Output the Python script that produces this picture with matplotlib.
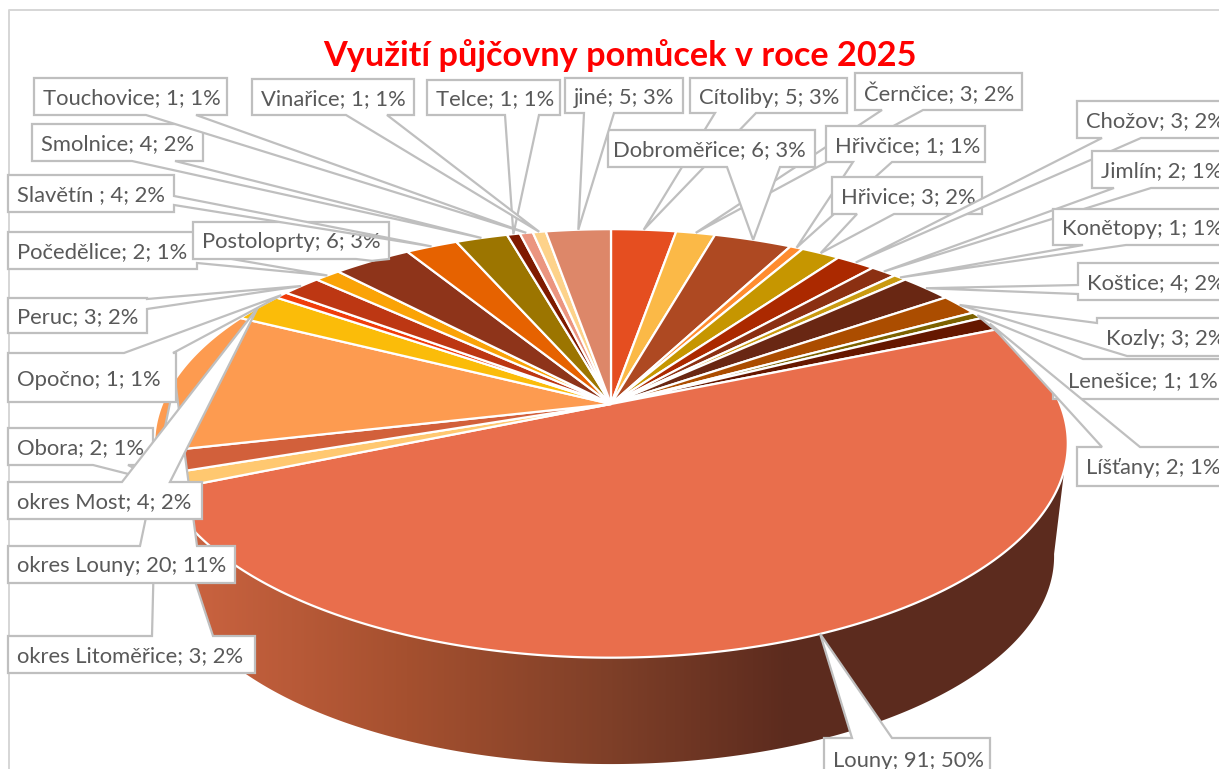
import numpy as np
import matplotlib
matplotlib.use("Agg")
import matplotlib.pyplot as plt
from matplotlib.patches import Polygon
from matplotlib.colors import LinearSegmentedColormap

plt.rcParams['font.family'] = ['Lato', 'DejaVu Sans']

categories = ["Cítoliby", "Černčice", "Dobroměřice", "Hřivčice", "Hřivice", "Chožov", "Jimlín",
              "Konětopy", "Koštice", "Kozly", "Lenešice", "Líšťany", "Louny", "Obora",
              "okres Litoměřice", "okres Louny", "okres Most", "Opočno", "Peruc", "Počedělice",
              "Postoloprty", "Slavětín ", "Smolnice", "Telce", "Touchovice", "Vinařice", "jiné"]
values = [5, 3, 6, 1, 3, 3, 2, 1, 4, 3, 1, 2, 91, 2, 3, 20, 4, 1, 3, 2, 6, 4, 4, 1, 1, 1, 5]
colors = ["#E54E20", "#FBB947", "#AE4922", "#FF8C2F", "#C69600", "#AB2900", "#8B3012",
          "#C99A10", "#692713", "#AB4D00", "#7C6200", "#651700", "#E96E4C", "#FFC870",
          "#D2603B", "#FD9B50", "#FBBC09", "#F03C0A", "#BD3713", "#FAA307", "#8E341A",
          "#E66200", "#9C7500", "#7F1A00", "#EB9580", "#FDD28A", "#DD8769"]
title = "Využití půjčovny pomůcek v roce 2025"

# callout layout: box (x0, y0, x1, y1), side of pointer, two base coordinates
layout = {
    "Cítoliby": ((690, 78, 847, 113), "bottom", 715, 756),
    "Černčice": ((855, 73, 1022, 110), "bottom", 882, 923),
    "Dobroměřice": ((608, 130, 815, 167), "bottom", 727, 780),
    "Hřivčice": ((826, 126, 985, 162), "bottom", 853, 892),
    "Hřivice": ((832, 177, 982, 214), "bottom", 857, 894),
    "Chožov": ((1077, 101, 1240, 138), "bottom", 1102, 1141),
    "Jimlín": ((1092, 151, 1240, 188), "bottom", 1114, 1151),
    "Konětopy": ((1053, 209, 1240, 245), "bottom", 1083, 1126),
    "Koštice": ((1078, 263, 1240, 300), "left", 285, 294),
    "Kozly": ((1097, 318, 1240, 356), "bl", 323, 1127),
    "Lenešice": ((1053, 359, 1240, 399), "tl", 378, 1083),
    "Líšťany": ((1077, 447, 1240, 486), "top", 1102, 1140),
    "Louny": ((824, 738, 990, 790), "top", 852, 892),
    "Obora": ((8, 428, 153, 465), "bottom", 93, 128),
    "okres Litoměřice": ((8, 636, 255, 673), "top", 152, 213),
    "okres Louny": ((8, 546, 235, 583), "top", 140, 197),
    "okres Most": ((8, 482, 202, 519), "top", 122, 170),
    "Opočno": ((8, 353, 176, 402), "top", 124, 173),
    "Peruc": ((8, 298, 147, 333), "right", 299, 309),
    "Počedělice": ((8, 232, 197, 269), "right", 253, 263),
    "Postoloprty": ((193, 222, 389, 259), "bottom", 356, 389),
    "Slavětín ": ((8, 175, 174, 212), "right", 196, 205),
    "Smolnice": ((32, 124, 203, 161), "bottom", 132, 175),
    "Touchovice": ((34, 78, 227, 115), "bottom", 146, 196),
    "Vinařice": ((252, 79, 414, 115), "bottom", 346, 387),
    "Telce": ((427, 80, 560, 115), "bottom", 505, 539),
    "jiné": ((565, 78, 683, 113), "bottom", 584, 614),
}
text_pad = {"Lenešice": 15, "Dobroměřice": 5}

CX, CY = 611, 404
RX, RY, K = 449, 207, 0.184
SCALE_B, CY_B = 0.97, 518


def project(theta, scale=1.0, cy=CY):
    """Perspective projection of a unit circle angle (clockwise from the top)."""
    X, Y = np.sin(theta), np.cos(theta)
    d = 1 + K * Y
    return np.column_stack((CX + scale * RX * X / d, cy - scale * RY * Y / d))


fig = plt.figure(figsize=(12.19, 7.69), dpi=100)
ax = fig.add_axes([0, 0, 1, 1])
ax.set_xlim(0, 1219)
ax.set_ylim(769, 0)
ax.axis("off")

# chart border
ax.plot([9, 9, 1219], [769, 10, 10], color="#D6D6D6", lw=1.4, zorder=0.5)

vals = np.array(values, float)
total = vals.sum()
edges = 2 * np.pi * np.concatenate(([0], np.cumsum(vals))) / total

# side wall
th = np.linspace(np.radians(100), np.radians(259), 300)
wall = np.vstack((project(th), project(th[::-1], SCALE_B, CY_B)))
wall_patch = Polygon(wall, closed=True, fc="none", ec="none")
ax.add_patch(wall_patch)
cmap = LinearSegmentedColormap.from_list(
    "wall", [(0, "#C8623F"), (0.35, "#A5502F"), (0.70, "#7E3F28"), (1, "#5C2B1E")])
grad = np.linspace(0, 1, 512).reshape(1, -1)
im = ax.imshow(grad, cmap=cmap, extent=(200, 790, 769, 430), aspect="auto", zorder=1)
im2 = ax.imshow(np.ones((1, 2)), cmap=cmap, vmin=0, vmax=1, extent=(790, 1100, 769, 430),
                aspect="auto", zorder=1)
im3 = ax.imshow(np.zeros((1, 2)), cmap=cmap, vmin=0, vmax=1, extent=(140, 200, 769, 430),
                aspect="auto", zorder=1)
for i in (im, im2, im3):
    i.set_clip_path(wall_patch)
ax.set_xlim(0, 1219)
ax.set_ylim(769, 0)

# top surface
for a, b, c in zip(edges[:-1], edges[1:], colors):
    t = np.linspace(a, b, max(4, int((b - a) * 120)))
    pts = np.vstack(([CX, CY], project(t)))
    ax.add_patch(Polygon(pts, closed=True, fc=c, ec="white", lw=1.6, joinstyle="round", zorder=2))

# callouts
EDGE = "#BFBFBF"
TEXT = "#595959"
for i, (name, v) in enumerate(zip(categories, values)):
    (x0, y0, x1, y1), side, b1, b2 = layout[name]
    tip = project(np.array([(edges[i] + edges[i + 1]) / 2]))[0]
    TL, TR, BR, BL = (x0, y0), (x1, y0), (x1, y1), (x0, y1)
    if side == "top":
        poly = [TL, (b1, y0), tip, (b2, y0), TR, BR, BL]
    elif side == "bottom":
        poly = [TL, TR, BR, (b2, y1), tip, (b1, y1), BL]
    elif side == "right":
        poly = [TL, TR, (x1, b1), tip, (x1, b2), BR, BL]
    elif side == "left":
        poly = [TL, TR, BR, BL, (x0, b2), tip, (x0, b1)]
    elif side == "tl":
        poly = [(x0, b1), tip, (b2, y0), TR, BR, BL]
    else:  # bottom-left corner
        poly = [TL, TR, BR, (b2, y1), tip, (x0, b1)]
    z = 3 + i * 0.01
    ax.add_patch(Polygon(poly, closed=True, fc="white", ec=EDGE, lw=1.6, joinstyle="miter", zorder=z))
    pct = round(100 * v / total)
    ax.text(x0 + text_pad.get(name, 9), (y0 + y1) / 2 if name != "Louny" else 759,
            f"{name}; {v}; {pct}%", color=TEXT, fontsize=15.8, ha="left", va="center_baseline",
            zorder=z + 0.001, clip_on=True)

ax.text(619.5, 53, title, color="#FF0000", fontsize=24.7, fontweight="bold", ha="center",
        va="center_baseline", zorder=5)

fig.savefig("out.png", dpi=100)
